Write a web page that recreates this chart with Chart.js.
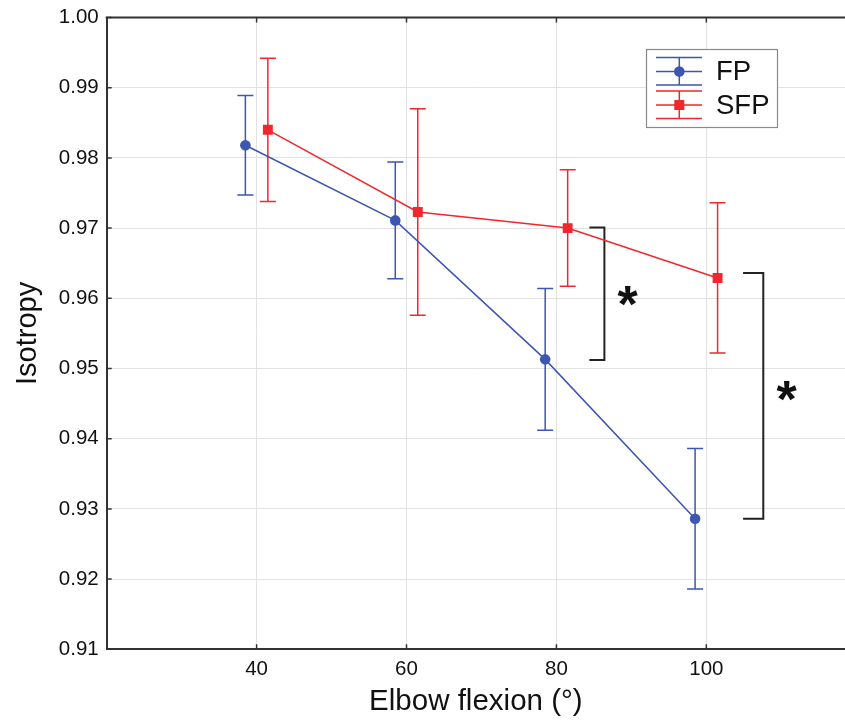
<!DOCTYPE html>
<html><head><meta charset="utf-8">
<style>html,body{margin:0;padding:0;background:#fff;overflow:hidden}#wrap{width:845px;height:721px;position:relative}</style>
<script src="https://cdn.jsdelivr.net/npm/chart.js@4/dist/chart.umd.min.js"></script>
</head><body><div id="wrap"><canvas id="c" width="845" height="721"></canvas></div>
<script>
const seriesNames = ['FP', 'SFP'];
const xTicks = [40, 60, 80, 100];
const yTicks = [0.91, 0.92, 0.93, 0.94, 0.95, 0.96, 0.97, 0.98, 0.99, 1.00];
const fpX = [38.5, 58.5, 78.5, 98.5];
const fpY = [0.9818, 0.9711, 0.9513, 0.9286];
const fpErr = [0.0071, 0.0083, 0.0101, 0.0100];
const sfpX = [41.5, 61.5, 81.5, 101.5];
const sfpY = [0.9840, 0.9723, 0.9700, 0.9629];
const sfpErr = [0.0102, 0.0147, 0.0083, 0.0107];
const bracketAX = [84.4, 86.4, 86.4, 84.4];
const bracketAY = [0.9701, 0.9701, 0.9512, 0.9512];
const bracketBX = [104.9, 107.6, 107.6, 104.9];
const bracketBY = [0.9636, 0.9636, 0.9286, 0.9286];
const starX = [89.5, 110.7];
const starY = [0.9603, 0.9468];
const starText = ['*', '*'];

const BLUE = '#3d56b2', RED = '#f0282d', FONT = "'Liberation Sans', Arial, sans-serif";
const pts = (xs, ys) => xs.map((x, i) => ({x: x, y: ys[i]}));
const errs = [fpErr, sfpErr];

const deco = {
  id: 'deco',
  beforeDatasetsDraw(chart) {
    const ctx = chart.ctx, xs = chart.scales.x, ys = chart.scales.y;
    [0, 1].forEach(di => {
      const ds = chart.data.datasets[di];
      ctx.save();
      ctx.strokeStyle = ds.borderColor; ctx.lineWidth = 1.5;
      ds.data.forEach((p, i) => {
        const px = xs.getPixelForValue(p.x);
        const t = ys.getPixelForValue(p.y + errs[di][i]);
        const b = ys.getPixelForValue(p.y - errs[di][i]);
        ctx.beginPath();
        ctx.moveTo(px, t); ctx.lineTo(px, b);
        ctx.moveTo(px - 8, t); ctx.lineTo(px + 8, t);
        ctx.moveTo(px - 8, b); ctx.lineTo(px + 8, b);
        ctx.stroke();
      });
      ctx.restore();
    });
  },
  afterDraw(chart) {
    const ctx = chart.ctx, a = chart.chartArea, xs = chart.scales.x, ys = chart.scales.y;
    ctx.save();
    // top border
    ctx.strokeStyle = '#333'; ctx.lineWidth = 2;
    ctx.beginPath(); ctx.moveTo(a.left - 1, a.top); ctx.lineTo(a.right, a.top); ctx.stroke();
    // inward ticks
    ctx.lineWidth = 1.5;
    ctx.beginPath();
    xTicks.forEach(v => {
      const px = xs.getPixelForValue(v);
      ctx.moveTo(px, a.bottom); ctx.lineTo(px, a.bottom - 5);
      ctx.moveTo(px, a.top); ctx.lineTo(px, a.top + 5);
    });
    yTicks.forEach(v => {
      const py = ys.getPixelForValue(v);
      ctx.moveTo(a.left, py); ctx.lineTo(a.left + 5, py);
    });
    ctx.stroke();
    // stars
    ctx.fillStyle = '#111';
    ctx.font = 'bold 52px ' + FONT;
    ctx.textAlign = 'center'; ctx.textBaseline = 'alphabetic';
    starX.forEach((sx, i) => {
      const m = ctx.measureText(starText[i]);
      const cy = ys.getPixelForValue(starY[i]);
      const by = cy + (m.actualBoundingBoxAscent - m.actualBoundingBoxDescent) / 2;
      ctx.fillText(starText[i], xs.getPixelForValue(sx), by);
    });
    // legend
    const L = 646.5, T = 49.5, W = 131, H = 78;
    ctx.fillStyle = '#fff'; ctx.fillRect(L, T, W, H);
    ctx.strokeStyle = '#8a8a8a'; ctx.lineWidth = 1.2; ctx.strokeRect(L, T, W, H);
    const rows = [{cy: 71.5, col: BLUE, shape: 'circle'}, {cy: 105, col: RED, shape: 'rect'}];
    rows.forEach((r, i) => {
      const x0 = 656, x1 = 702, xc = 679.3;
      ctx.strokeStyle = r.col; ctx.lineWidth = 1.5;
      ctx.beginPath();
      [-14, 0, 13.5].forEach(d => { ctx.moveTo(x0, r.cy + d); ctx.lineTo(x1, r.cy + d); });
      ctx.moveTo(xc, r.cy - 14); ctx.lineTo(xc, r.cy + 13.5);
      ctx.stroke();
      ctx.fillStyle = r.col;
      if (r.shape === 'circle') { ctx.beginPath(); ctx.arc(xc, r.cy, 5.3, 0, Math.PI * 2); ctx.fill(); }
      else { ctx.fillRect(xc - 5, r.cy - 5, 10, 10); }
      ctx.fillStyle = '#111'; ctx.font = '27.5px ' + FONT;
      ctx.textAlign = 'left'; ctx.textBaseline = 'middle';
      ctx.fillText(chart.data.datasets[i].label, 716, r.cy + 1);
    });
    ctx.restore();
  }
};

new Chart(document.getElementById('c'), {
  type: 'scatter',
  data: {
    datasets: [
      {label: seriesNames[0], data: pts(fpX, fpY), showLine: true, borderColor: BLUE, backgroundColor: BLUE,
       borderWidth: 1.5, pointStyle: 'circle', pointRadius: 5.3, pointBorderWidth: 0, order: 1},
      {label: seriesNames[1], data: pts(sfpX, sfpY), showLine: true, borderColor: RED, backgroundColor: RED,
       borderWidth: 1.5, pointStyle: 'rect', pointRadius: 7, pointBorderWidth: 0, order: 0},
      {label: 'a', data: pts(bracketAX, bracketAY), showLine: true, borderColor: '#222', borderWidth: 2,
       pointRadius: 0, order: 2},
      {label: 'b', data: pts(bracketBX, bracketBY), showLine: true, borderColor: '#222', borderWidth: 2,
       pointRadius: 0, order: 2}
    ]
  },
  options: {
    responsive: false, animation: false, devicePixelRatio: 1,
    layout: {autoPadding: false, padding: {top: 17.5, right: 0, left: 0, bottom: 0}},
    plugins: {legend: {display: false}, tooltip: {enabled: false}},
    scales: {
      x: {
        type: 'linear', min: 20, max: 118.5,
        afterBuildTicks: s => { s.ticks = xTicks.map(v => ({value: v})); },
        afterFit: s => { s.height = 71.7; s.paddingLeft = 0; s.paddingRight = 0; },
        grid: {color: '#e2e2e2', lineWidth: 1, drawTicks: false},
        border: {color: '#333', width: 2},
        ticks: {color: '#111', font: {family: FONT, size: 20.5}, padding: 8, maxRotation: 0},
        title: {display: true, text: 'Elbow flexion (°)', color: '#111',
                font: {family: FONT, size: 29.5, lineHeight: 1}, padding: {top: 0, bottom: 4}}
      },
      y: {
        type: 'linear', min: 0.91, max: 1.00,
        afterBuildTicks: s => { s.ticks = yTicks.map(v => ({value: v})); },
        afterFit: s => { s.width = 106.7; s.paddingTop = 0; s.paddingBottom = 0; },
        grid: {color: '#e2e2e2', lineWidth: 1, drawTicks: false},
        border: {color: '#333', width: 2},
        ticks: {color: '#111', font: {family: FONT, size: 20.5}, padding: 8, callback: v => v.toFixed(2)},
        title: {display: true, text: 'Isotropy', color: '#111',
                font: {family: FONT, size: 29, lineHeight: 1}, padding: {top: 13, bottom: 0}}
      }
    }
  },
  plugins: [deco]
});
</script>
</body></html>
